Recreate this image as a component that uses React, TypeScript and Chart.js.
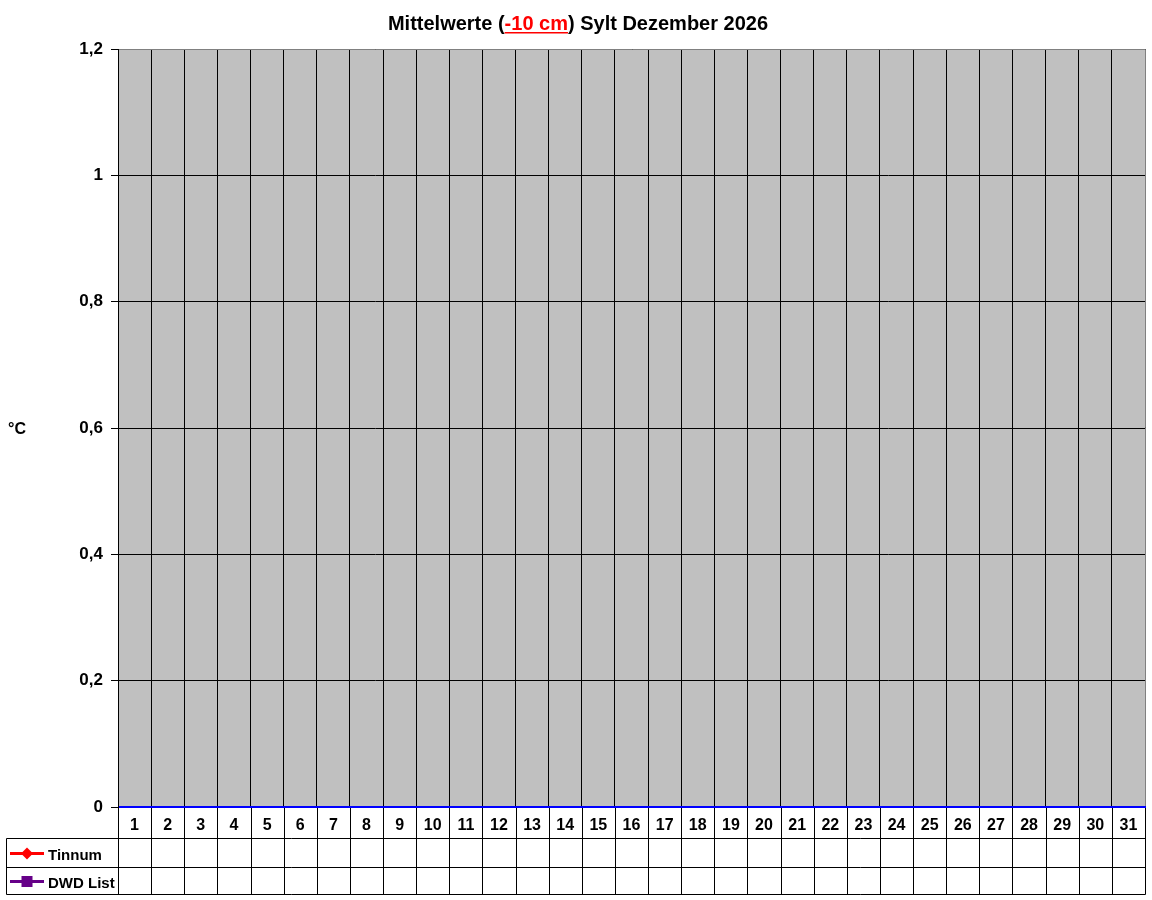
import React, { useEffect, useRef } from 'react';
import { Chart, registerables } from 'chart.js';

Chart.register(...registerables);

// Tage im Dezember (Kategorien der x-Achse)
const days = ['1', '2', '3', '4', '5', '6', '7', '8', '9', '10', '11', '12', '13', '14', '15', '16',
    '17', '18', '19', '20', '21', '22', '23', '24', '25', '26', '27', '28', '29', '30', '31'];

// Messwerte: für Dezember 2026 liegen noch keine Werte vor
const tinnum = [null, null, null, null, null, null, null, null, null, null, null, null, null, null, null, null,
    null, null, null, null, null, null, null, null, null, null, null, null, null, null, null];
const dwdList = [null, null, null, null, null, null, null, null, null, null, null, null, null, null, null, null,
    null, null, null, null, null, null, null, null, null, null, null, null, null, null, null];

const yMin = 0;
const yMax = 1.2;
const yStep = 0.2;

const FONT = '"Liberation Sans", Arial, sans-serif';

const titlePlugin = {
    id: 'mixedTitle',
    afterDraw(chart: Chart) {
        const ctx = chart.ctx;
        const parts = [
            { text: 'Mittelwerte (', color: '#000000', underline: false },
            { text: '-10 cm', color: '#ff0000', underline: true },
            { text: ') Sylt Dezember 2026', color: '#000000', underline: false },
        ];
        ctx.save();
        ctx.font = `bold 20px ${FONT}`;
        ctx.textBaseline = 'alphabetic';
        ctx.textAlign = 'left';
        const total = parts.reduce((s, p) => s + ctx.measureText(p.text).width, 0);
        let x = 578 - total / 2;
        const y = 30;
        parts.forEach(p => {
            const w = ctx.measureText(p.text).width;
            ctx.fillStyle = p.color;
            ctx.fillText(p.text, x, y);
            if (p.underline) {
                ctx.fillRect(x, y + 2, w, 1.5);
            }
            x += w;
        });

        // Einheit links
        ctx.font = `bold 16px ${FONT}`;
        ctx.fillStyle = '#000000';
        ctx.fillText('°C', 8, 434);
        ctx.restore();
    },
};

const plotBgPlugin = {
    id: 'plotBg',
    beforeDraw(chart: Chart) {
        const { ctx, chartArea } = chart;
        ctx.save();
        ctx.fillStyle = '#c0c0c0';
        ctx.fillRect(chartArea.left, chartArea.top, chartArea.right - chartArea.left, chartArea.bottom - chartArea.top);
        ctx.restore();
    },
    afterDraw(chart: Chart) {
        const { ctx, chartArea } = chart;
        const ys = chart.scales.y;
        ctx.save();
        ctx.strokeStyle = '#808080';
        ctx.lineWidth = 1;
        ctx.beginPath();
        ctx.moveTo(chartArea.left + 1, Math.round(chartArea.top) + 0.5);
        ctx.lineTo(Math.round(chartArea.right) + 0.5, Math.round(chartArea.top) + 0.5);
        ctx.lineTo(Math.round(chartArea.right) + 0.5, chartArea.bottom - 1);
        ctx.stroke();

        // blaue Nulllinie
        const y0 = Math.round(ys.getPixelForValue(0));
        ctx.strokeStyle = '#0000ff';
        ctx.lineWidth = 2;
        ctx.beginPath();
        ctx.moveTo(chartArea.left + 1, y0);
        ctx.lineTo(Math.round(chartArea.right) + 1, y0);
        ctx.stroke();
        ctx.restore();
    },
};

// Datentabelle unter der Grafik (wie in Excel)
const dataTablePlugin = {
    id: 'dataTable',
    afterDraw(chart: Chart) {
        const { ctx, chartArea } = chart;
        const xs = chart.scales.x;
        const half = (xs.getPixelForValue(1) - xs.getPixelForValue(0)) / 2;
        const tableLeft = 6.5;
        const r0 = Math.round(chartArea.bottom);
        const rows = [r0, r0 + 31, r0 + 60, r0 + 87];
        const px = (v: number) => Math.round(v) + 0.5;

        ctx.save();
        ctx.strokeStyle = '#000000';
        ctx.lineWidth = 1;
        ctx.beginPath();
        // horizontale Linien
        for (let r = 1; r < rows.length; r++) {
            ctx.moveTo(tableLeft, px(rows[r]));
            ctx.lineTo(px(chartArea.right), px(rows[r]));
        }
        // senkrechte Linien
        for (let i = 0; i <= days.length; i++) {
            const xb = px(xs.getPixelForValue(i) - half);
            ctx.moveTo(xb, rows[0] + 1);
            ctx.lineTo(xb, px(rows[3]));
        }
        ctx.moveTo(tableLeft, px(rows[1]));
        ctx.lineTo(tableLeft, px(rows[3]));
        ctx.stroke();

        // Legendenschlüssel
        chart.data.datasets.forEach((ds: any, i: number) => {
            const yMid = (rows[i + 1] + rows[i + 2]) / 2 + 1;
            ctx.strokeStyle = ds.borderColor;
            ctx.fillStyle = ds.borderColor;
            ctx.lineWidth = 3;
            ctx.beginPath();
            ctx.moveTo(10, yMid);
            ctx.lineTo(44, yMid);
            ctx.stroke();
            if (ds.pointStyle === 'rectRot') {
                ctx.beginPath();
                ctx.moveTo(27, yMid - 6);
                ctx.lineTo(33, yMid);
                ctx.lineTo(27, yMid + 6);
                ctx.lineTo(21, yMid);
                ctx.closePath();
                ctx.fill();
            } else {
                ctx.fillRect(21.5, yMid - 5.5, 11, 11);
            }
            ctx.fillStyle = '#000000';
            ctx.font = `bold 15px ${FONT}`;
            ctx.textBaseline = 'middle';
            ctx.textAlign = 'left';
            ctx.fillText(ds.label, 48, yMid + 2);
        });
        ctx.restore();
    },
};

const formatTick = (v: number | string) => {
    const n = Math.round(Number(v) * 10) / 10;
    return String(n).replace('.', ',');
};

const App: React.FC = () => {
    const ref = useRef<HTMLCanvasElement>(null);
    const chartRef = useRef<Chart | null>(null);

    useEffect(() => {
        document.body.style.margin = '0';
        if (!ref.current) return;

        if (chartRef.current) {
            chartRef.current.destroy();
        }

        chartRef.current = new Chart(ref.current, {
            type: 'line',
            data: {
                labels: days,
                datasets: [
                    {
                        label: 'Tinnum',
                        data: tinnum,
                        borderColor: '#ff0000',
                        backgroundColor: '#ff0000',
                        pointStyle: 'rectRot',
                        borderWidth: 3,
                    },
                    {
                        label: 'DWD List',
                        data: dwdList,
                        borderColor: '#660088',
                        backgroundColor: '#660088',
                        pointStyle: 'rect',
                        borderWidth: 3,
                    },
                ],
            },
            options: {
                responsive: false,
                animation: false,
                devicePixelRatio: 1,
                layout: { padding: { top: 49, right: 5, left: 0, bottom: 0 } },
                plugins: {
                    legend: { display: false },
                    tooltip: { enabled: false },
                    title: { display: false },
                },
                scales: {
                    x: {
                        type: 'category',
                        offset: true,
                        grid: { offset: true, color: '#000000', lineWidth: 1, drawTicks: false },
                        border: { color: '#000000', width: 1 },
                        ticks: {
                            color: '#000000',
                            font: { family: FONT, size: 16, weight: 'bold' },
                            padding: 9,
                            maxRotation: 0,
                            autoSkip: false,
                        },
                        afterFit: (s: any) => { s.height = 93; },
                    },
                    y: {
                        min: yMin,
                        max: yMax,
                        ticks: {
                            stepSize: yStep,
                            color: '#000000',
                            font: { family: FONT, size: 17, weight: 'bold' },
                            padding: 8,
                            callback: formatTick,
                        },
                        grid: {
                            color: (c: any) => (c.tick && c.tick.value === 0 ? 'rgba(0,0,0,0)' : '#000000'),
                            tickColor: '#000000',
                            tickLength: 7,
                        },
                        border: { color: '#000000', width: 1 },
                        afterFit: (s: any) => { s.width = 118; },
                    },
                },
            },
            plugins: [plotBgPlugin, dataTablePlugin, titlePlugin],
        });

        return () => {
            if (chartRef.current) {
                chartRef.current.destroy();
                chartRef.current = null;
            }
        };
    }, []);

    return (
        <div style={{ width: 1152, height: 900 }}>
            <canvas ref={ref} width={1152} height={900}></canvas>
        </div>
    );
};

export default App;
